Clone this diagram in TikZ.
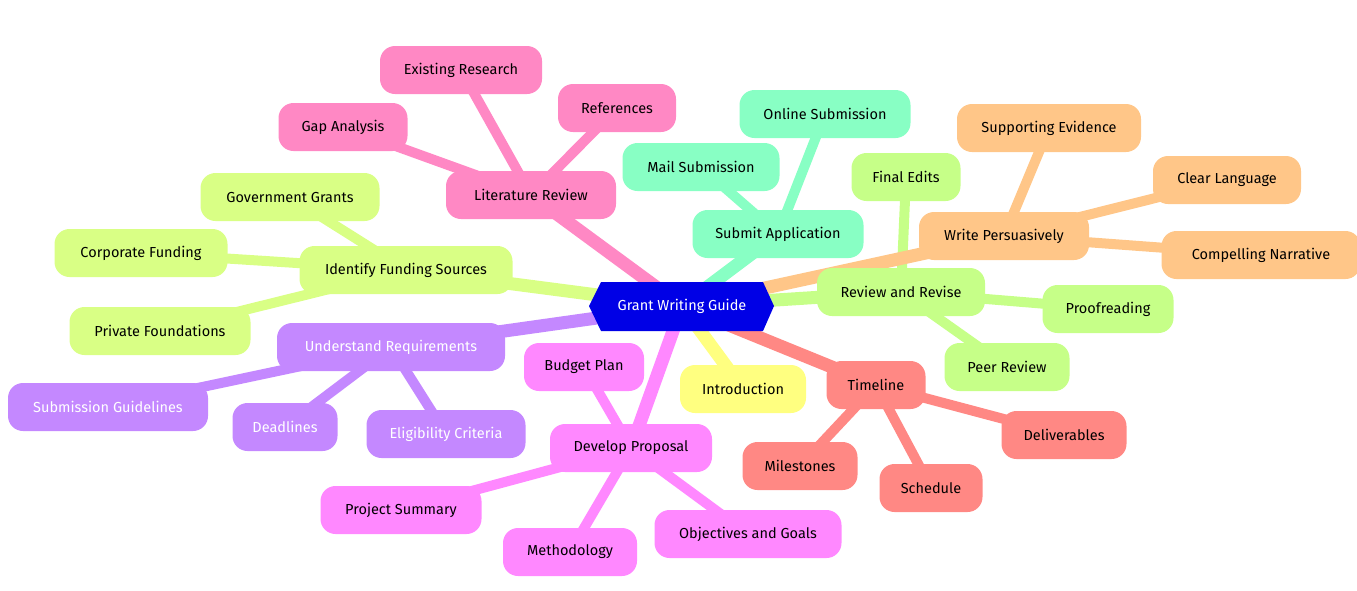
\documentclass[tikz,border=0pt]{standalone}
\usepackage{fontspec}
\setmainfont{Fira Sans}
\usetikzlibrary{calc}
\definecolor{cRoot}{HTML}{0000E6}
\definecolor{cPink}{HTML}{FF88C4}
\definecolor{cLime}{HTML}{D9FF85}
\definecolor{cPurple}{HTML}{C488FF}
\definecolor{cMagenta}{HTML}{FF88FF}
\definecolor{cYellow}{HTML}{FFFF80}
\definecolor{cSalmon}{HTML}{FF8884}
\definecolor{cGreen}{HTML}{C6FF88}
\definecolor{cOrange}{HTML}{FFC688}
\definecolor{cMint}{HTML}{88FFC4}
\tikzset{
  mm/.style={rounded corners=15pt, minimum height=48pt, inner sep=0pt, text=black,
     font=\fontsize{14.5}{16}\selectfont, fill=#1},
  w/.style={minimum width=#1 pt},
  wt/.style={text=white},
  e1/.style={line width=13pt, draw=#1},
  e2/.style={line width=10pt, draw=#1},
}
\begin{document}
\begin{tikzpicture}[x=1pt,y=-1pt]
\useasboundingbox (0,0) rectangle (1357,590);
% coordinates
\coordinate (cr) at (682,306);
\coordinate (c1) at (531,195);
\coordinate (c11) at (461,70);
\coordinate (c12) at (617,108);
\coordinate (c13) at (343,127);
\coordinate (c2) at (406,270);
\coordinate (c21) at (290,197);
\coordinate (c22) at (141,253);
\coordinate (c23) at (160,331);
\coordinate (c3) at (391,347);
\coordinate (c31) at (108,407);
\coordinate (c32) at (285,427);
\coordinate (c33) at (446,434);
\coordinate (c4) at (631,448);
\coordinate (c41) at (584,367);
\coordinate (c42) at (401,510);
\coordinate (c43) at (570,552);
\coordinate (c44) at (748,534);
\coordinate (c5) at (743,389);
\coordinate (c6) at (876,385);
\coordinate (c61) at (800,466);
\coordinate (c62) at (931,488);
\coordinate (c63) at (1064,435);
\coordinate (c7) at (901,292);
\coordinate (c71) at (906,177);
\coordinate (c72) at (1108,309);
\coordinate (c73) at (1007,367);
\coordinate (c8) at (1004,236);
\coordinate (c81) at (1049,128);
\coordinate (c82) at (1227,180);
\coordinate (c83) at (1261,255);
\coordinate (c9) at (778,234);
\coordinate (c91) at (825,114);
\coordinate (c92) at (701,167);
% edges (behind nodes)
\draw[e2=cPink] (c1) -- (c11); \draw[e2=cPink] (c1) -- (c12); \draw[e2=cPink] (c1) -- (c13);
\draw[e2=cLime] (c2) -- (c21); \draw[e2=cLime] (c2) -- (c22); \draw[e2=cLime] (c2) -- (c23);
\draw[e2=cPurple] (c3) -- (c31); \draw[e2=cPurple] (c3) -- (c32); \draw[e2=cPurple] (c3) -- (c33);
\draw[e2=cMagenta] (c4) -- (c41); \draw[e2=cMagenta] (c4) -- (c42); \draw[e2=cMagenta] (c4) -- (c43); \draw[e2=cMagenta] (c4) -- (c44);
\draw[e2=cSalmon] (c6) -- (c61); \draw[e2=cSalmon] (c6) -- (c62); \draw[e2=cSalmon] (c6) -- (c63);
\draw[e2=cGreen] (c7) -- (c71); \draw[e2=cGreen] (c7) -- (c72); \draw[e2=cGreen] (c7) -- (c73);
\draw[e2=cOrange] (c8) -- (c81); \draw[e2=cOrange] (c8) -- (c82); \draw[e2=cOrange] (c8) -- (c83);
\draw[e2=cMint] (c9) -- (c91); \draw[e2=cMint] (c9) -- (c92);
\draw[e1=cPink] (cr) -- (c1);
\draw[e1=cLime] (cr) -- (c2);
\draw[e1=cPurple] (cr) -- (c3);
\draw[e1=cMagenta] (cr) -- (c4);
\draw[e1=cYellow] (cr) -- (c5);
\draw[e1=cSalmon] (cr) -- (c6);
\draw[e1=cGreen] (cr) -- (c7);
\draw[e1=cOrange] (cr) -- (c8);
\draw[e1=cMint] (cr) -- (c9);
% nodes
\node[mm=cPink, w=170] (n1) at (c1) {Literature Review};
\node[mm=cPink, w=162] (n11) at (c11) {Existing Research};
\node[mm=cPink, w=118] (n12) at (c12) {References};
\node[mm=cPink, w=129] (n13) at (c13) {Gap Analysis};
\node[mm=cLime, w=213] (n2) at (c2) {Identify Funding Sources};
\node[mm=cLime, w=179] (n21) at (c21) {Government Grants};
\node[mm=cLime, w=173] (n22) at (c22) {Corporate Funding};
\node[mm=cLime, w=181] (n23) at (c23) {Private Foundations};
\node[mm=cPurple, wt, w=228] (n3) at (c3) {Understand Requirements};
\node[mm=cPurple, wt, w=200] (n31) at (c31) {Submission Guidelines};
\node[mm=cPurple, wt, w=105] (n32) at (c32) {Deadlines};
\node[mm=cPurple, wt, w=159] (n33) at (c33) {Eligibility Criteria};
\node[mm=cMagenta, w=162] (n4) at (c4) {Develop Proposal};
\node[mm=cMagenta, w=120] (n41) at (c41) {Budget Plan};
\node[mm=cMagenta, w=161] (n42) at (c42) {Project Summary};
\node[mm=cMagenta, w=134] (n43) at (c43) {Methodology};
\node[mm=cMagenta, w=187] (n44) at (c44) {Objectives and Goals};
\node[mm=cYellow, w=126] (n5) at (c5) {Introduction};
\node[mm=cSalmon, w=99] (n6) at (c6) {Timeline};
\node[mm=cSalmon, w=115] (n61) at (c61) {Milestones};
\node[mm=cSalmon, w=103] (n62) at (c62) {Schedule};
\node[mm=cSalmon, w=125] (n63) at (c63) {Deliverables};
\node[mm=cGreen, w=168] (n7) at (c7) {Review and Revise};
\node[mm=cGreen, w=109] (n71) at (c71) {Final Edits};
\node[mm=cGreen, w=131] (n72) at (c72) {Proofreading};
\node[mm=cGreen, w=125] (n73) at (c73) {Peer Review};
\node[mm=cOrange, w=170] (n8) at (c8) {Write Persuasively};
\node[mm=cOrange, w=184] (n81) at (c81) {Supporting Evidence};
\node[mm=cOrange, w=148] (n82) at (c82) {Clear Language};
\node[mm=cOrange, w=199] (n83) at (c83) {Compelling Narrative};
\node[mm=cMint, w=171] (n9) at (c9) {Submit Application};
\node[mm=cMint, w=171] (n91) at (c91) {Online Submission};
\node[mm=cMint, w=157] (n92) at (c92) {Mail Submission};
% root
\fill[cRoot] (589,306) -- (601,282) -- (763,282) -- (774,306) -- (763,331) -- (601,331) -- cycle;
\node[text=white, font=\fontsize{14.5}{16}\selectfont, inner sep=0pt] (root) at (cr) {Grant Writing Guide};
\end{tikzpicture}
\end{document}
